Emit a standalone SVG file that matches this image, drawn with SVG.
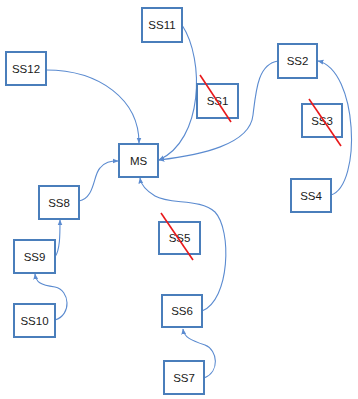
<svg xmlns="http://www.w3.org/2000/svg" width="358" height="399" viewBox="0 0 358 399">
<style>
.box{fill:#fff;stroke:#4a7ebb;stroke-width:2}
.lbl{font-family:"Liberation Sans",Arial,sans-serif;font-size:11.5px;fill:#1a1a1a;text-anchor:middle}
.con{fill:none;stroke:#5b8bd0;stroke-width:1.1;marker-end:url(#ah)}
.x{stroke:#e8191b;stroke-width:1.6}
</style>
<defs>
<marker id="ah" viewBox="0 0 10 10" refX="9" refY="5" markerWidth="6" markerHeight="6" orient="auto" markerUnits="userSpaceOnUse">
<path d="M0,1 L10,5 L0,9 z" fill="#5b8bd0"/>
</marker>
</defs>
<rect width="358" height="399" fill="#fff"/>
<g id="connectors">
<path class="con" d="M46,70 C100,70 139,100 139,143"/>
<path class="con" d="M182,25 C205,60 203,140 159,160"/>
<path class="con" d="M278,61 C258,64 256,90 253,115 C250,145 200,155 159,160"/>
<path class="con" d="M331,195 C362,185 358,70 318,61"/>
<path class="con" d="M79,201 C95,198 93,175 100,168 C105,162 110,161 118,161"/>
<path class="con" d="M55,257 C60,250 60,235 60,220"/>
<path class="con" d="M55,320 C72,315 70,290 55,287 C40,285 36,282 35,274"/>
<path class="con" d="M202,311 C230,300 232,230 215,212 C200,198 170,205 155,196 C145,190 141,185 140,178"/>
<path class="con" d="M204,378 C220,372 218,350 205,345 C190,340 184,337 183,329"/>
</g>
<g id="SS11"><rect class="box" x="142" y="8" width="40" height="34"/><text class="lbl" x="162" y="29">SS11</text></g>
<g id="SS12"><rect class="box" x="6" y="52" width="40" height="33"/><text class="lbl" x="26" y="73">SS12</text></g>
<g id="MS"><rect class="box" x="119" y="144" width="39" height="33"/><text class="lbl" x="138.5" y="165">MS</text></g>
<g id="SS1"><rect class="box" x="197" y="84" width="41" height="34"/><text class="lbl" x="217.5" y="105">SS1</text><line class="x" x1="200" y1="75" x2="231" y2="122"/></g>
<g id="SS2"><rect class="box" x="278" y="44" width="39" height="34"/><text class="lbl" x="297.5" y="65">SS2</text></g>
<g id="SS3"><rect class="box" x="302" y="104" width="40" height="33"/><text class="lbl" x="322" y="125">SS3</text><line class="x" x1="309" y1="99" x2="341" y2="146"/></g>
<g id="SS4"><rect class="box" x="291" y="179" width="40" height="33"/><text class="lbl" x="311" y="200">SS4</text></g>
<g id="SS5"><rect class="box" x="159" y="222" width="41" height="32"/><text class="lbl" x="179.5" y="242">SS5</text><line class="x" x1="161" y1="213" x2="193" y2="260"/></g>
<g id="SS6"><rect class="box" x="162" y="295" width="40" height="32"/><text class="lbl" x="182" y="315">SS6</text></g>
<g id="SS7"><rect class="box" x="164" y="361" width="40" height="33"/><text class="lbl" x="184" y="382">SS7</text></g>
<g id="SS8"><rect class="box" x="39" y="186" width="40" height="33"/><text class="lbl" x="59" y="207">SS8</text></g>
<g id="SS9"><rect class="box" x="14" y="240" width="41" height="33"/><text class="lbl" x="34.5" y="261">SS9</text></g>
<g id="SS10"><rect class="box" x="14" y="304" width="41" height="33"/><text class="lbl" x="34.5" y="325">SS10</text></g>
</svg>
